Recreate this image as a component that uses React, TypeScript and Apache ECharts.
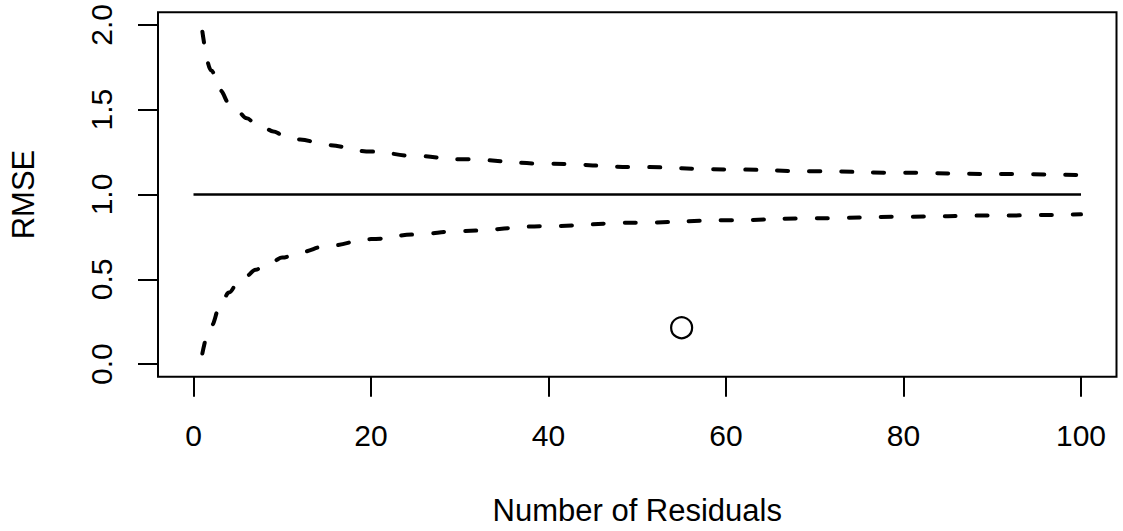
import React, { useEffect, useRef } from "react";
import * as echarts from "echarts";

// Number of residuals at which the bounds were read
const nValues = [1, 2, 3, 4, 5, 6, 7, 8, 9, 10, 12, 15, 20, 25, 30, 40, 50, 60, 70, 80, 90, 100];
// Upper dashed bound (RMSE)
const upperValues = [1.96, 1.731, 1.614, 1.54, 1.488, 1.449, 1.418, 1.392, 1.371, 1.353, 1.324, 1.291, 1.253, 1.227, 1.208, 1.181, 1.162, 1.148, 1.137, 1.128, 1.121, 1.115];
// Lower dashed bound (RMSE)
const lowerValues = [0.063, 0.226, 0.342, 0.422, 0.479, 0.522, 0.556, 0.584, 0.608, 0.628, 0.66, 0.696, 0.737, 0.764, 0.785, 0.814, 0.834, 0.848, 0.86, 0.869, 0.876, 0.883];
// Reference line at RMSE = 1
const refX = [0, 100];
const refY = [1, 1];
// Observed point
const pointX = [55];
const pointY = [0.215];
// Tick values
const xTicks = [0, 20, 40, 60, 80, 100];
const yTicks = [0, 0.5, 1, 1.5, 2];

const FONT = "Liberation Sans, Arial, Helvetica, sans-serif";

export default function App() {
  const ref = useRef<HTMLDivElement>(null);
  useEffect(() => {
    if (!ref.current) return;
    const chart = echarts.init(ref.current, undefined, { renderer: "svg" });
    const zip = (xs: number[], ys: number[]) => xs.map((x, i) => [x, ys[i]]);
    const dashStyle = {
      color: "#000",
      width: 4,
      type: [11, 21] as number[],
      cap: "round" as const,
    };
    chart.setOption({
      animation: false,
      backgroundColor: "#fff",
      grid: {
        left: 157.3,
        right: 6.5,
        top: 12.3,
        bottom: 154.3,
        show: true,
        borderColor: "#000",
        borderWidth: 2,
        containLabel: false,
      },
      xAxis: {
        type: "value",
        min: -4,
        max: 104,
        splitLine: { show: false },
        axisLine: { show: false, onZero: false },
        axisTick: {
          show: true,
          customValues: xTicks,
          length: 20,
          lineStyle: { color: "#000", width: 2 },
        },
        axisLabel: {
          customValues: xTicks,
          color: "#000",
          fontSize: 30,
          fontFamily: FONT,
          margin: 44,
        },
        name: "Number of Residuals",
        nameLocation: "middle",
        nameGap: 118,
        nameTextStyle: { color: "#000", fontSize: 31, fontFamily: FONT },
      },
      yAxis: {
        type: "value",
        min: -0.074,
        max: 2.074,
        splitLine: { show: false },
        axisLine: { show: false, onZero: false },
        axisTick: {
          show: true,
          customValues: yTicks,
          length: 20,
          lineStyle: { color: "#000", width: 2 },
        },
        axisLabel: {
          customValues: yTicks,
          rotate: 90,
          color: "#000",
          fontSize: 30,
          fontFamily: FONT,
          margin: 42,
          formatter: (v: number) => v.toFixed(1),
        },
        name: "RMSE",
        nameLocation: "middle",
        nameRotate: 90,
        nameGap: 119,
        nameTextStyle: { color: "#000", fontSize: 31, fontFamily: FONT },
      },
      series: [
        {
          type: "line",
          data: zip(refX, refY),
          showSymbol: false,
          lineStyle: { color: "#000", width: 2.3 },
          silent: true,
        },
        {
          type: "line",
          data: zip(nValues, upperValues),
          showSymbol: false,
          smooth: 0.4,
          smoothMonotone: "x",
          lineStyle: dashStyle,
          silent: true,
        },
        {
          type: "line",
          data: zip(nValues, lowerValues),
          showSymbol: false,
          smooth: 0.4,
          smoothMonotone: "x",
          lineStyle: dashStyle,
          silent: true,
        },
        {
          type: "scatter",
          data: zip(pointX, pointY),
          symbol: "circle",
          symbolSize: 21,
          itemStyle: {
            color: "rgba(0,0,0,0)",
            borderColor: "#000",
            borderWidth: 2.2,
            opacity: 1,
          },
          silent: true,
        },
      ],
    });
    return () => chart.dispose();
  }, []);
  return (
    <div
      ref={ref}
      style={{ position: "fixed", left: 0, top: 0, width: 1123, height: 531, background: "#fff" }}
    />
  );
}
